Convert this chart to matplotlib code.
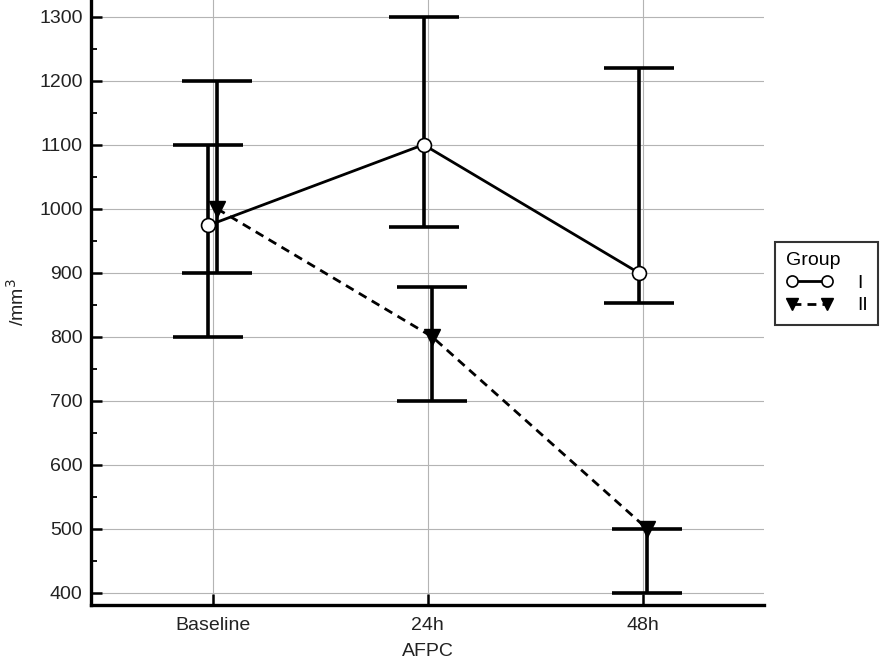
import matplotlib
matplotlib.use('Agg')
import matplotlib.pyplot as plt
from matplotlib.ticker import MultipleLocator
import numpy as np

plt.rcParams['font.family'] = ['Liberation Sans', 'DejaVu Sans']

categories = ['Baseline', '24h', '48h']

# group I
mean_1 = [974, 1100, 900]
low_1 = [800, 972, 853]
high_1 = [1100, 1300, 1220]

# group II
mean_2 = [1000, 800, 500]
low_2 = [900, 700, 400]
high_2 = [1200, 877, 500]

x = np.arange(len(categories))
off = 0.02

fig = plt.figure(figsize=(8.94, 6.66), dpi=100)
ax = fig.add_axes([0.1018, 0.0916, 0.753, 0.9084])

m1 = np.array(mean_1)
m2 = np.array(mean_2)
err1 = [m1 - np.array(low_1), np.array(high_1) - m1]
err2 = [m2 - np.array(low_2), np.array(high_2) - m2]

ax.errorbar(x + off, m2, yerr=err2, fmt='none', ecolor='black',
            elinewidth=2.6, capsize=25.5, capthick=2.6, zorder=3)
ax.errorbar(x - off, m1, yerr=err1, fmt='none', ecolor='black',
            elinewidth=2.6, capsize=25.5, capthick=2.6, zorder=3)

ax.plot(x + off, m2, color='black', lw=2.0, ls=(0, (3.2, 2.2)),
        marker='v', ms=11, mfc='black', mec='black', zorder=4, label='II')
ax.plot(x - off, m1, color='black', lw=2.0, ls='-',
        marker='o', ms=10, mfc='white', mec='black', mew=1.2, zorder=5, label='I')

ax.set_xlim(-0.566, 2.564)
ax.set_ylim(381, 1326)
ax.set_xticks(x)
ax.set_xticklabels(categories)
ax.yaxis.set_major_locator(MultipleLocator(100))
ax.yaxis.set_minor_locator(MultipleLocator(50))

ax.grid(True, which='major', color='#b4b4b4', lw=0.8)
ax.set_axisbelow(True)

for s in ['top', 'right']:
    ax.spines[s].set_visible(False)
for s in ['left', 'bottom']:
    ax.spines[s].set_linewidth(2.4)

ax.tick_params(axis='both', which='major', direction='in', length=8, width=1.8,
               labelsize=14, colors='black', labelcolor='#222222')
ax.tick_params(axis='y', which='minor', direction='in', length=4.5, width=1.3)
ax.tick_params(axis='y', pad=6)
ax.tick_params(axis='x', pad=9)

ax.set_xlabel('AFPC', fontsize=14, color='#222222', labelpad=6)
ax.set_ylabel('/mm$^3$', fontsize=14, color='#222222', labelpad=8)

h, l = ax.get_legend_handles_labels()
leg = fig.legend(h[::-1], l[::-1], title='Group', loc='upper left',
                 bbox_to_anchor=(0.867, 0.637), numpoints=2, fontsize=14,
                 title_fontsize=14, frameon=True, fancybox=False,
                 handlelength=2.4, handletextpad=1.25, borderpad=0.55,
                 labelspacing=0.25, markerscale=0.8, borderaxespad=0)
leg._legend_box.align = 'left'
leg.get_frame().set_edgecolor('black')
leg.get_frame().set_linewidth(1.5)

fig.savefig('out.png', dpi=100)
